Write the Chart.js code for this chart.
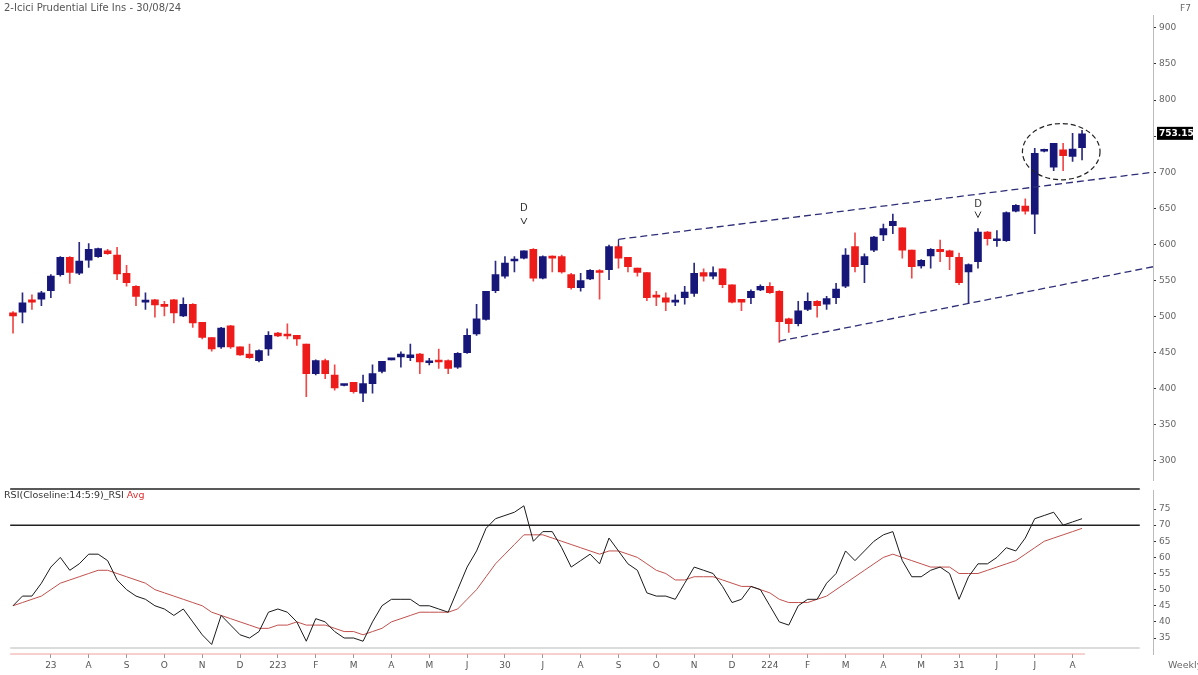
<!DOCTYPE html>
<html><head><meta charset="utf-8">
<script src="https://cdn.jsdelivr.net/npm/chart.js@4.4.1/dist/chart.umd.min.js"></script>
<style>
html,body{margin:0;padding:0;background:#fff;width:1198px;height:675px;overflow:hidden;}
#wrap{position:relative;width:1198px;height:675px;background:#fff;}
#pc{position:absolute;left:0;top:0;}
#rc{position:absolute;left:0;top:480px;}
.t{position:absolute;font-family:'DejaVu Sans',sans-serif;font-size:10px;color:#555;white-space:nowrap;}
</style></head><body>
<div id="wrap">
<canvas id="pc" width="1198" height="489"></canvas>
<canvas id="rc" width="1198" height="195"></canvas>
<div class="t" style="left:4px;top:2px">2-Icici Prudential Life Ins - 30/08/24</div>
<div class="t" style="left:4px;top:489px;font-size:9.5px;color:#333">RSI(Closeline:14:5:9)_RSI <span style="color:#e03030">Avg</span></div>
<div class="t" style="left:1168px;top:659px;font-size:9.5px;color:#666">Weekly</div>
<div class="t" style="left:1180px;top:3px;font-size:9px;color:#666">F7</div>
</div>
<script>
// ---- data ----
const opens  = [505,506,523,524,536,558,582,560,578,583,591,585,560,542,520,523,515,523,501,517,492,471,458,487,458,448,439,455,477,475,474,462,421,439,419,404.5,409,394,407,424,440,444,443,448,436,439,439,430,450,476,496,536,556,577,581,593,553,583,583,558,540,552,563,565,597,582,567,561,528,526,520,526,532,561,556,566,544,524,526,537,542,535,497,490,510,521,517,526,542,597,572,592,613,626,623,592,570,584,593,591,582,562,576,617,605,605,646,653,642,729,707,731,722,734];
const highs  = [507,533,530,535,558,583,583,603,601,595,593,596,571,543,533,524,521,524,526,518,492,471,485,488,458,462,454,479,478,490,474,462,440,441,433,406,409,419,433,438,441,451,462,449,442,455,440,450,483,517,535,577,583,583,591,594,584,584,585,560,560,565,565,599,599,582,567,561,535,533,530,542,574,566,569,566,544,524,537,544,547,536,498,521,533,522,528,546,594,616,587,611,628,642,623,592,579,594,606,592,588,573,622,618,619,645,655,663,733,732,740,740,754,758];
const lows   = [477,491,510,515,526,556,546,558,568,582,586,551,542,515,510,499,501,491,500,485,469,452,456,456,446,442,437,446,472,469,460,389,419,414,398,404,394,382,394,422,440,430,439,421,433,428,421,428,449,474,495,533,553,562,580,549,552,562,560,538,535,551,524,551,567,562,556,522,515,508,515,517,528,549,552,540,519,508,518,536,532,464,478,487,508,499,510,518,540,562,547,590,605,615,581,553,567,567,576,565,544,519,567,599,597,604,645,642,615,728,702,702,715,717];
const closes = [501,519,520,533,556,582,561,577,593,594,587,559,547,528,522,516,514,505,517,491,471,455,484,458,447,443,453,474,473,473,469,421,439,421,401,405.5,396,407,421,438,441,448,447,437,437,437,428,449,474,497,535,558,574,579,591,553,583,581,562,540,550,564,561,597,581,569,561,526,527,520,522,534,560,556,561,544,520,520,535,542,533,493,490,508,521,515,525,538,585,569,583,610,622,632,592,569,578,593,590,583,547,572,617,608,607,644,654,646,726,731,740,723,732,753.15];
const rsi    = [45,48,48,52,57,60,56,58,61,61,59,53,50,48,47,45,44,42,44,40,36,33,42,39,36,35,37,43,44,43,40,34,41,40,37,35,35,34,40,45,47,47,47,45,45,44,43,50,57,62,69,72,73,74,76,65,68,68,63,57,59,61,58,66,62,58,56,49,48,48,47,52,57,56,55,51,46,47,51,50,45,40,39,45,47,47,52,55,62,59,62,65,67,68,59,54,54,56,57,55,47,54,58,58,60,63,62,66,72,73,74,70,71,72];
const rsiAvg = [45,46,47,48,50,52,53,54,55,56,56,55,54,53,52,50,49,48,47,46,45,43,42,41,40,39,38,38,39,39,40,39,39,39,38,37,37,36,37,38,40,41,42,43,43,43,43,44,47,50,54,58,61,64,67,67,67,66,65,64,63,62,61,62,62,61,60,58,56,55,53,53,54,54,54,53,52,51,51,50,49,47,46,46,46,47,48,50,52,54,56,58,60,61,60,59,58,57,57,57,55,55,55,56,57,58,59,61,63,65,66,67,68,69];
const xLabels   = ["23","A","S","O","N","D","223","F","M","A","M","J","30","J","A","S","O","N","D","224","F","M","A","M","31","J","J","A"];
const xLabelIdx = [4,8,12,16,20,24,28,32,36,40,44,48,52,56,60,64,68,72,76,80,84,88,92,96,100,104,108,112];
const priceTicks = [300,350,400,450,500,550,600,650,700,750,800,850,900];
const rsiTicks = [35,40,45,50,55,60,65,70,75];
const lastPrice = 753.15;
// annotations in data space: [x0, price0, x1, price1]
const trendLines = [[64,607,120.5,700],[81,466,120.5,569]];
const ellipseBox = [106.7,689.5,114.9,767.4];
const dMarks = [[54,650,631],[102,655,640]];

// ---- styling ----
const UP = '#17177a', DN = '#ee1b1b';
const FONT = "'DejaVu Sans', sans-serif";
const idx = opens.map((_, i) => i);
const colors = idx.map(i => closes[i] >= opens[i] ? UP : DN);
const wickColors = idx.map(i => closes[i] >= opens[i] ? '#2a2a80' : '#f04848');
const XMIN = -0.53, XMAX = 120.5;

const annot = {
  id: 'annot',
  afterDatasetsDraw(chart) {
    const { ctx, scales: { x, y } } = chart;
    ctx.save();
    ctx.strokeStyle = '#2e2e78'; ctx.lineWidth = 1.3; ctx.setLineDash([7, 4]);
    trendLines.forEach(L => {
      ctx.beginPath();
      ctx.moveTo(x.getPixelForValue(L[0]), y.getPixelForValue(L[1]));
      ctx.lineTo(x.getPixelForValue(L[2]), y.getPixelForValue(L[3]));
      ctx.stroke();
    });
    ctx.setLineDash([]);
    ctx.beginPath();
    ctx.moveTo(x.getPixelForValue(trendLines[0][0]), y.getPixelForValue(trendLines[0][1]));
    ctx.lineTo(x.getPixelForValue(trendLines[0][0]), y.getPixelForValue(trendLines[0][1] - 10));
    ctx.stroke();
    // ellipse
    const ex0 = x.getPixelForValue(ellipseBox[0]), ex1 = x.getPixelForValue(ellipseBox[2]);
    const ey0 = y.getPixelForValue(ellipseBox[3]), ey1 = y.getPixelForValue(ellipseBox[1]);
    ctx.strokeStyle = '#222'; ctx.lineWidth = 1.2; ctx.setLineDash([5, 3]);
    ctx.beginPath();
    ctx.ellipse((ex0 + ex1) / 2, (ey0 + ey1) / 2, (ex1 - ex0) / 2, (ey1 - ey0) / 2, 0, 0, Math.PI * 2);
    ctx.stroke();
    ctx.setLineDash([]);
    // D markers
    ctx.fillStyle = '#333'; ctx.strokeStyle = '#333'; ctx.lineWidth = 1;
    ctx.font = '10px ' + FONT; ctx.textAlign = 'center'; ctx.textBaseline = 'middle';
    dMarks.forEach(d => {
      const px = x.getPixelForValue(d[0]);
      ctx.fillText('D', px, y.getPixelForValue(d[1]));
      const ay = y.getPixelForValue(d[2]);
      ctx.beginPath();
      ctx.moveTo(px - 3, ay - 4); ctx.lineTo(px, ay + 2); ctx.lineTo(px + 3, ay - 4);
      ctx.stroke();
    });
    // last price box
    const py = y.getPixelForValue(lastPrice);
    const bx = chart.chartArea.right + 4;
    ctx.fillStyle = '#000';
    ctx.fillRect(bx, py - 7, 36, 13);
    ctx.fillStyle = '#fff'; ctx.font = 'bold 9px ' + FONT; ctx.textAlign = 'left';
    ctx.fillText(lastPrice.toFixed(2), bx + 2, py);
    ctx.restore();
  }
};

new Chart(document.getElementById('pc'), {
  type: 'bar',
  data: {
    datasets: [
      { data: idx.map(i => ({ x: i, y: [lows[i], highs[i]] })), backgroundColor: wickColors, barThickness: 1, grouped: false, order: 2 },
      { data: idx.map(i => ({ x: i, y: [opens[i], closes[i]] })), backgroundColor: colors, barThickness: 7, grouped: false, minBarLength: 2, order: 1 }
    ]
  },
  options: {
    responsive: false, animation: false, devicePixelRatio: 1,
    layout: { padding: { left: 8, top: 15, bottom: 2, right: 0 } },
    plugins: { legend: { display: false }, tooltip: { enabled: false } },
    scales: {
      x: { type: 'linear', min: XMIN, max: XMAX, offset: false, display: false },
      y: {
        position: 'right', min: 272.7, max: 917.8,
        afterFit(s) { s.width = 45; },
        afterBuildTicks(s) { s.ticks = priceTicks.map(v => ({ value: v })); },
        ticks: { callback: v => v === 750 ? '' : String(v), color: '#666', font: { size: 9, family: FONT }, padding: 3 },
        grid: { drawOnChartArea: false, tickLength: 3, color: '#333' },
        border: { color: '#bbb' }
      }
    }
  },
  plugins: [annot]
});

const rsiDeco = {
  id: 'rsiDeco',
  beforeDatasetsDraw(chart) {
    const { ctx, chartArea: a, scales: { x, y } } = chart;
    const xl = x.getPixelForValue(-0.3), xr = x.getPixelForValue(119.1);
    ctx.save();
    ctx.strokeStyle = '#222'; ctx.lineWidth = 1.5;
    ctx.beginPath(); ctx.moveTo(xl, a.top - 1); ctx.lineTo(xr, a.top - 1); ctx.stroke();
    ctx.beginPath(); ctx.moveTo(xl, y.getPixelForValue(70)); ctx.lineTo(xr, y.getPixelForValue(70)); ctx.stroke();
    ctx.strokeStyle = '#d0d0d0'; ctx.lineWidth = 1.5;
    ctx.beginPath(); ctx.moveTo(xl, y.getPixelForValue(31.9)); ctx.lineTo(xr, y.getPixelForValue(31.9)); ctx.stroke();
    ctx.strokeStyle = '#f0a0a0'; ctx.lineWidth = 1;
    ctx.beginPath(); ctx.moveTo(xl, a.bottom); ctx.lineTo(x.getPixelForValue(113.3), a.bottom); ctx.stroke();
    ctx.restore();
  }
};

new Chart(document.getElementById('rc'), {
  type: 'line',
  data: {
    datasets: [
      { data: idx.map(i => ({ x: i, y: rsi[i] })), borderColor: '#1a1a1a', borderWidth: 1, pointRadius: 0, tension: 0, order: 1 },
      { data: idx.map(i => ({ x: i, y: rsiAvg[i] })), borderColor: '#c0504d', borderWidth: 1, pointRadius: 0, tension: 0, order: 2 }
    ]
  },
  options: {
    responsive: false, animation: false, devicePixelRatio: 1,
    layout: { padding: { left: 8, top: 10, bottom: 0, right: 0 } },
    plugins: { legend: { display: false }, tooltip: { enabled: false } },
    scales: {
      x: {
        type: 'linear', min: XMIN, max: XMAX, offset: false,
        afterFit(s) { s.height = 21; },
        afterBuildTicks(s) { s.ticks = xLabelIdx.map(v => ({ value: v })); },
        ticks: { callback: v => xLabels[xLabelIdx.indexOf(v)], autoSkip: false, maxRotation: 0, color: '#555', font: { size: 9, family: FONT }, padding: 2 },
        grid: { drawOnChartArea: false, tickLength: 4, color: '#999' },
        border: { display: false }
      },
      y: {
        position: 'right', min: 30.04, max: 80.9,
        afterFit(s) { s.width = 45; },
        afterBuildTicks(s) { s.ticks = rsiTicks.map(v => ({ value: v })); },
        ticks: { color: '#666', font: { size: 9, family: FONT }, padding: 3 },
        grid: { drawOnChartArea: false, tickLength: 3, color: '#333' },
        border: { color: '#bbb' }
      }
    }
  },
  plugins: [rsiDeco]
});
</script>
</body></html>
